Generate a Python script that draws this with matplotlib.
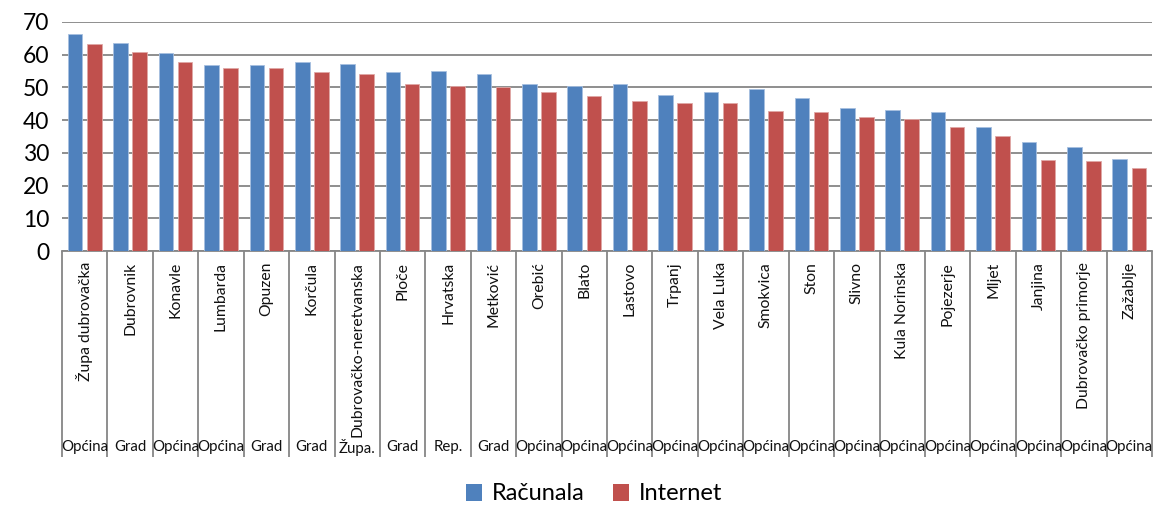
import matplotlib
matplotlib.use("Agg")
import matplotlib.pyplot as plt
from matplotlib.patches import Patch
from matplotlib.transforms import blended_transform_factory
import numpy as np

plt.rcParams['font.family'] = ['Lato', 'DejaVu Sans']

# Data
places = ["Župa dubrovačka", "Dubrovnik", "Konavle", "Lumbarda", "Opuzen", "Korčula",
          "Dubrovačko-neretvanska", "Ploče", "Hrvatska", "Metković", "Orebić", "Blato",
          "Lastovo", "Trpanj", "Vela Luka", "Smokvica", "Ston", "Slivno", "Kula Norinska",
          "Pojezerje", "Mljet", "Janjina", "Dubrovačko primorje", "Zažablje"]
kinds = ["Općina", "Grad", "Općina", "Općina", "Grad", "Grad", "Župa.", "Grad", "Rep.",
         "Grad", "Općina", "Općina", "Općina", "Općina", "Općina", "Općina", "Općina",
         "Općina", "Općina", "Općina", "Općina", "Općina", "Općina", "Općina"]
racunala = [66.2, 63.6, 60.5, 57.0, 57.0, 57.9, 57.1, 54.8, 55.1, 54.1, 50.9, 50.5,
            50.9, 47.6, 48.6, 49.4, 46.8, 43.6, 43.2, 42.6, 37.8, 33.4, 31.9, 28.2]
internet = [63.2, 60.7, 57.9, 55.8, 55.8, 54.8, 54.0, 51.2, 50.5, 50.0, 48.7, 47.4,
            45.7, 45.3, 45.3, 42.9, 42.5, 41.0, 40.3, 38.0, 35.3, 27.9, 27.6, 25.3]
series_names = ["Računala", "Internet"]
yticks = [0, 10, 20, 30, 40, 50, 60, 70]

BLUE = "#4F81BD"
RED = "#C0504D"
GRID = "#868686"

W, H = 1165, 505
fig = plt.figure(figsize=(W / 100, H / 100), dpi=100)
left, right, top, bottom = 62, 1152, 22, 251
ax = fig.add_axes([left / W, 1 - bottom / H, (right - left) / W, (bottom - top) / H])

x = np.arange(len(places))
bw = 0.32
off = 0.21
ax.bar(x - off, racunala, width=bw, color=BLUE, edgecolor="#A7C0E0", linewidth=0.6, zorder=3)
ax.bar(x + off, internet, width=bw, color=RED, edgecolor="#E0A8A6", linewidth=0.6, zorder=3)

ax.set_xlim(-0.5, len(places) - 0.5)
ax.set_ylim(0, 70)
ax.set_yticks(yticks)
ax.set_yticklabels([str(v) for v in yticks], fontsize=16.5)
ax.tick_params(axis='y', length=0, pad=9)
ax.yaxis.grid(True, color=GRID, linewidth=1.3, zorder=0)
ax.set_axisbelow(True)
for s in ("left", "top", "right"):
    ax.spines[s].set_visible(False)
ax.spines["bottom"].set_color(GRID)
ax.spines["bottom"].set_linewidth(1.3)

# category boxes: dividers extend down from the axis
ax_h = bottom - top
box_bottom = 457
ax.set_xticks([])
ax.set_xticks(np.arange(len(places) + 1) - 0.5, minor=True)
ax.tick_params(axis='x', which='minor', length=(box_bottom - bottom) * 0.72,
               color=GRID, width=1.3, labelbottom=False)

tr = blended_transform_factory(ax.transData, ax.transAxes)
name_y = -(262 - bottom) / ax_h
kind_y = -(447 - bottom) / ax_h
for i, (p, k) in enumerate(zip(places, kinds)):
    ax.text(i, name_y, p, rotation=90, ha='center', va='top', fontsize=11.3,
            transform=tr, color="#111111")
    ax.text(i, kind_y, k, ha='center', va='center', fontsize=10.8,
            transform=tr, color="#111111")

handles = [Patch(facecolor=BLUE), Patch(facecolor=RED)]
fig.legend(handles, series_names, loc='center', bbox_to_anchor=(594 / W, 1 - 494 / H),
           ncol=2, frameon=False, fontsize=17, handlelength=0.7, handleheight=0.7,
           handletextpad=0.4, columnspacing=1.2)

fig.savefig("out.png", dpi=100)
